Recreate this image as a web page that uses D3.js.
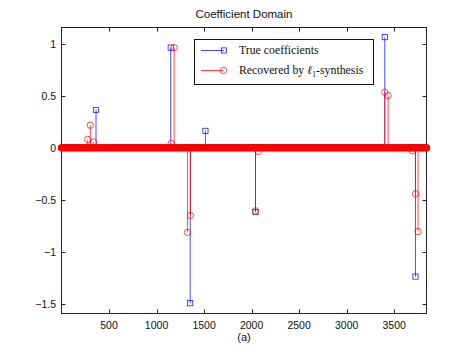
<!DOCTYPE html>
<html>
<head>
<meta charset="utf-8">
<script src="https://cdn.jsdelivr.net/npm/d3@7"></script>
<style>
  html, body { margin: 0; padding: 0; background: #fff; }
  svg { display: block; }
</style>
</head>
<body>
<svg id="chart" width="471" height="354"></svg>
<script>
// ---- Data ----
const signalLength = 3840;                 // number of coefficients
const xTicks = [500, 1000, 1500, 2000, 2500, 3000, 3500];
const yTicks = [-1.5, -1, -0.5, 0, 0.5, 1];
const yTickLabels = ["\u22121.5", "\u22121", "\u22120.5", "0", "0.5", "1"];

// True coefficients (non-zero entries)
const trueIdx = [363, 1149, 1354, 1514, 2041, 3401, 3724];
const trueVal = [0.364, 0.963, -1.494, 0.163, -0.619, 1.063, -1.238];

// Recovered by l1-synthesis (non-zero entries; all others ~0)
const recIdx = [275, 303, 338, 1154, 1185, 1325, 1357, 2041, 2071, 3401, 3436, 3692, 3724, 3751];
const recVal = [0.080, 0.217, 0.055, 0.042, 0.962, -0.814, -0.651, -0.606, -0.036, 0.534, 0.502, -0.030, -0.443, -0.805];

const titleText = "Coefficient Domain";
const xLabelText = "(a)";
const legendLabels = ["True coefficients", "Recovered by "];

// ---- Layout ----
const svg = d3.select("#chart");
const L = 61.5, R = 426.5, T = 27.5, B = 313.5;
const x = d3.scaleLinear().domain([0, signalLength]).range([L, R]);
const y = d3.scaleLinear().domain([-1.593, 1.156]).range([B, T]);

const blue = "#0000ff", red = "#ff0000";
const sans = "'Liberation Sans', Arial, Helvetica, sans-serif";
const serif = "'Liberation Serif', 'Times New Roman', serif";

// Axes box
svg.append("rect").attr("x", L).attr("y", T).attr("width", R - L).attr("height", B - T)
  .attr("fill", "none").attr("stroke", "#222").attr("stroke-width", 1);

const tickLen = 4;
const g = svg.append("g");
xTicks.forEach(t => {
  const px = Math.round(x(t)) + 0.5;
  g.append("line").attr("x1", px).attr("x2", px).attr("y1", B).attr("y2", B - tickLen).attr("stroke", "#222");
  g.append("line").attr("x1", px).attr("x2", px).attr("y1", T).attr("y2", T + tickLen).attr("stroke", "#222");
  g.append("text").attr("x", x(t)).attr("y", 328.5).attr("text-anchor", "middle")
    .attr("font-family", sans).attr("font-size", "10.5px").attr("fill", "#111").text(t);
});
yTicks.forEach((t, i) => {
  const py = Math.round(y(t)) + 0.5;
  g.append("line").attr("x1", L).attr("x2", L + tickLen).attr("y1", py).attr("y2", py).attr("stroke", "#222");
  g.append("line").attr("x1", R).attr("x2", R - tickLen).attr("y1", py).attr("y2", py).attr("stroke", "#222");
  g.append("text").attr("x", 56).attr("y", y(t)).attr("dy", "0.36em").attr("text-anchor", "end")
    .attr("font-family", sans).attr("font-size", "10.5px").attr("fill", "#111").text(yTickLabels[i]);
});

// Title and x label
svg.append("text").attr("x", (L + R) / 2).attr("y", 18.3).attr("text-anchor", "middle")
  .attr("font-family", sans).attr("font-size", "11.5px").attr("fill", "#111").text(titleText);
svg.append("text").attr("x", (L + R) / 2).attr("y", 341).attr("text-anchor", "middle")
  .attr("font-family", sans).attr("font-size", "11px").attr("fill", "#111").text(xLabelText);

// ---- Data marks ----
const trueData = trueIdx.map((d, i) => ({ i: d, v: trueVal[i] }));
const recData = recIdx.map((d, i) => ({ i: d, v: recVal[i] }));
const sq = 5.2, cr = 3.2, lw = 0.7;

const gT = svg.append("g");
gT.selectAll("line").data(trueData).join("line")
  .attr("x1", d => x(d.i)).attr("x2", d => x(d.i)).attr("y1", y(0)).attr("y2", d => y(d.v))
  .attr("stroke", blue).attr("stroke-width", lw);
gT.selectAll("rect").data(trueData).join("rect")
  .attr("x", d => x(d.i) - sq / 2).attr("y", d => y(d.v) - sq / 2).attr("width", sq).attr("height", sq)
  .attr("fill", "none").attr("stroke", blue).attr("stroke-width", lw);

// Zero band formed by the recovered markers sitting at 0 for every coefficient
svg.append("line")
  .attr("x1", x(1)).attr("x2", x(signalLength)).attr("y1", y(0)).attr("y2", y(0))
  .attr("stroke", red).attr("stroke-width", 7.6).attr("stroke-linecap", "round");

const gR = svg.append("g");
gR.selectAll("line").data(recData).join("line")
  .attr("x1", d => x(d.i)).attr("x2", d => x(d.i)).attr("y1", y(0)).attr("y2", d => y(d.v))
  .attr("stroke", red).attr("stroke-width", lw);
gR.selectAll("circle").data(recData).join("circle")
  .attr("cx", d => x(d.i)).attr("cy", d => y(d.v)).attr("r", cr)
  .attr("fill", "none").attr("stroke", red).attr("stroke-width", lw);

// ---- Legend ----
const lg = svg.append("g");
lg.append("rect").attr("x", 194.5).attr("y", 39.5).attr("width", 179).attr("height", 45)
  .attr("fill", "#fff").attr("stroke", "#111").attr("stroke-width", 1);
const rows = [50.5, 70.5];
lg.append("line").attr("x1", 201).attr("x2", 224).attr("y1", rows[0]).attr("y2", rows[0]).attr("stroke", blue).attr("stroke-width", lw);
lg.append("rect").attr("x", 224 - sq / 2).attr("y", rows[0] - sq / 2).attr("width", sq).attr("height", sq)
  .attr("fill", "none").attr("stroke", blue).attr("stroke-width", lw);
lg.append("line").attr("x1", 201).attr("x2", 223.5).attr("y1", rows[1]).attr("y2", rows[1]).attr("stroke", red).attr("stroke-width", lw);
lg.append("circle").attr("cx", 223.5).attr("cy", rows[1]).attr("r", cr)
  .attr("fill", "none").attr("stroke", red).attr("stroke-width", lw);

lg.append("text").attr("x", 239).attr("y", 54.3).attr("font-family", serif).attr("font-size", "11.8px")
  .attr("fill", "#111").text(legendLabels[0]);
const t2 = lg.append("text").attr("x", 239).attr("y", 74.3).attr("font-family", serif).attr("font-size", "11.8px").attr("fill", "#111");
t2.append("tspan").text(legendLabels[1]);
t2.append("tspan").attr("font-style", "italic").text("\u2113");
t2.append("tspan").attr("font-size", "8px").attr("dy", "2.5").text("1");
t2.append("tspan").attr("dy", "-2.5").text("-synthesis");
</script>
</body>
</html>
